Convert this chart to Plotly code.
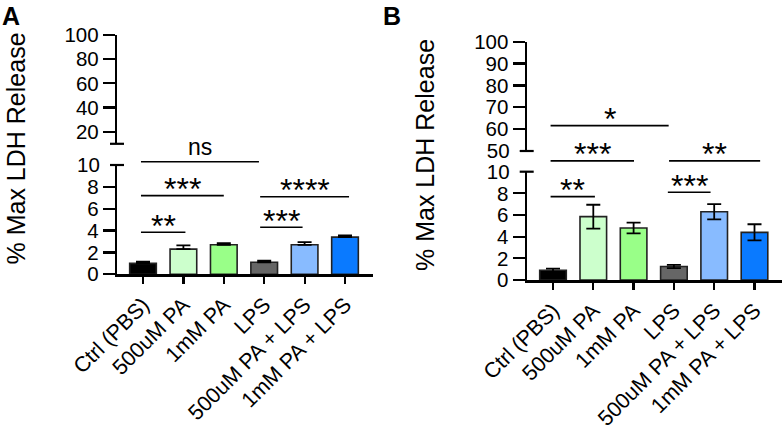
import plotly.graph_objects as go

# ---------------- data ----------------
categories = ["Ctrl (PBS)", "500uM PA", "1mM PA", "LPS", "500uM PA + LPS", "1mM PA + LPS"]
bar_colors = ["#000000", "#ccffcc", "#99ff88", "#666666", "#88bbff", "#0a7aff"]

a_mean = [1.0, 2.3, 2.7, 1.1, 2.7, 3.4]
a_sem = [0.15, 0.35, 0.15, 0.15, 0.25, 0.15]

b_mean = [0.9, 5.85, 4.8, 1.25, 6.3, 4.4]
b_sem = [0.15, 1.1, 0.5, 0.15, 0.7, 0.75]

# significance brackets (category span, height in lower-axis units, label)
a_sig_labels = ["**", "***", "ns", "***", "****"]
a_sig_start = [-0.05, -0.05, -0.05, 2.9, 2.9]
a_sig_end = [1.05, 2.0, 2.87, 3.95, 5.1]
a_sig_height = [3.85, 7.2, 10.3, 4.3, 7.1]

b_sig_labels = ["**", "***", "***", "**", "*"]
b_sig_start = [-0.06, 2.85, -0.06, 2.88, -0.06]
b_sig_end = [1.04, 3.91, 2.01, 5.14, 2.87]
b_sig_height = [7.7, 8.1, 11.0, 11.0, 14.25]

a_lower_ticks = [0, 2, 4, 6, 8]
a_upper_ticks = [20, 40, 60, 80, 100]
b_lower_ticks = [0, 2, 4, 6, 8]
b_upper_ticks = [60, 70, 80, 90, 100]

y_title = "% Max LDH Release"

# ---------------- layout geometry (pixels) ----------------
W, H = 782, 430
FONT = "Arial, Liberation Sans, sans-serif"


def px(x):
    return x / W


def py(y):
    return 1 - y / H


panels = {
    "A": dict(axis_x=117, cat0=143, pitch=40.4, right=373,
              low0=274.3, low10=165, up_bot=143.8, up_top=35,
              up_range=[10, 100], up_ticks=a_upper_ticks, low_ticks=a_lower_ticks,
              up_extra=None, mean=a_mean, sem=a_sem, sym=False,
              sig=(a_sig_labels, a_sig_start, a_sig_end, a_sig_height),
              title_x=15, title_y=148.5, letter_x=0),
    "B": dict(axis_x=526.7, cat0=553, pitch=40.3, right=782,
              low0=280, low10=171.7, up_bot=151, up_top=41.7,
              up_range=[50, 100], up_ticks=b_upper_ticks, low_ticks=b_lower_ticks,
              up_extra=50, mean=b_mean, sem=b_sem, sym=True,
              sig=(b_sig_labels, b_sig_start, b_sig_end, b_sig_height),
              title_x=425, title_y=155, letter_x=381),
}

fig = go.Figure()
layout = dict(width=W, height=H, margin=dict(l=0, r=0, t=0, b=0, autoexpand=False),
              paper_bgcolor="white", plot_bgcolor="rgba(0,0,0,0)",
              showlegend=False, font=dict(family=FONT, color="black"))
shapes = []
annotations = []

ytickfont = dict(family=FONT, size=20.5, color="black")
xtickfont = dict(family=FONT, size=21.5, color="black")
xcat = list(range(len(categories)))

for pi, (name, p) in enumerate(panels.items()):
    base = pi * 5
    xi = base + 1
    yl = base + 1
    yu = base + 2
    xb = base + 3
    yb = base + 3
    yo = base + 4
    yo2 = base + 5

    def aid(letter, n):
        return letter if n == 1 else f"{letter}{n}"

    def lk(letter, n):
        return f"{letter}axis" if n == 1 else f"{letter}axis{n}"

    xrng = [(p["axis_x"] - p["cat0"]) / p["pitch"], (p["right"] - p["cat0"]) / p["pitch"]]
    xdom = [px(p["axis_x"]), min(1.0, px(p["right"]))]
    low_dom = [py(p["low0"]), py(p["low10"])]
    up_dom = [py(p["up_bot"]), py(p["up_top"])]
    scale = (p["low0"] - p["low10"]) / 10.0
    br_top = p["low0"] / scale

    common_y = dict(showline=True, linewidth=2.2, linecolor="black", ticks="outside",
                    ticklen=12, tickwidth=2.2, tickcolor="black", showgrid=False,
                    zeroline=False, tickfont=ytickfont, automargin=False)

    layout[lk("x", xi)] = dict(domain=xdom, range=xrng, anchor=aid("y", yl),
                              tickvals=xcat, ticktext=categories, tickangle=-45,
                              showline=True, linewidth=2.5, linecolor="black",
                              ticks="outside", ticklen=7, tickwidth=2.2, tickcolor="black",
                              showgrid=False, zeroline=False, tickfont=xtickfont,
                              automargin=False)
    layout[lk("y", yl)] = dict(domain=low_dom, range=[0, 10], anchor=aid("x", xi),
                              tickvals=p["low_ticks"], **common_y)
    layout[lk("y", yu)] = dict(domain=up_dom, range=p["up_range"], anchor=aid("x", xi),
                              tickvals=p["up_ticks"], **common_y)
    layout[lk("y", yo)] = dict(overlaying=aid("y", yl), range=[0, 10], anchor=aid("x", xi),
                              side="left", tickvals=[10], showline=False, ticks="outside",
                              ticklen=12, tickcolor="rgba(0,0,0,0)", showgrid=False,
                              zeroline=False, tickfont=ytickfont, automargin=False)
    if p["up_extra"] is not None:
        layout[lk("y", yo2)] = dict(overlaying=aid("y", yu), range=p["up_range"],
                                   anchor=aid("x", xi), side="left",
                                   tickvals=[p["up_extra"]], showline=False,
                                   ticks="outside", ticklen=12,
                                   tickcolor="rgba(0,0,0,0)", showgrid=False,
                                   zeroline=False, tickfont=ytickfont, automargin=False)
        fig.add_trace(go.Scatter(x=[None], y=[None], xaxis=aid("x", xi),
                                 yaxis=aid("y", yo2), hoverinfo="skip"))
    layout[lk("x", xb)] = dict(domain=xdom, range=xrng, visible=False, anchor=aid("y", yb),
                              automargin=False)
    layout[lk("y", yb)] = dict(domain=[low_dom[0], 1.0], range=[0, br_top], visible=False,
                              anchor=aid("x", xb), automargin=False)

    # bars
    fig.add_trace(go.Bar(
        x=xcat, y=p["mean"], width=0.66,
        marker=dict(color=bar_colors, line=dict(color="#222222", width=1.6)),
        error_y=dict(type="data", array=p["sem"],
                     arrayminus=(p["sem"] if p["sym"] else [0] * len(p["sem"])),
                     symmetric=False, color="black", thickness=1.8, width=7),
        xaxis=aid("x", xi), yaxis=aid("y", yl), hoverinfo="skip"))
    fig.add_trace(go.Scatter(x=[None], y=[None], xaxis=aid("x", xi), yaxis=aid("y", yu),
                             hoverinfo="skip"))
    fig.add_trace(go.Scatter(x=[None], y=[None], xaxis=aid("x", xi), yaxis=aid("y", yo),
                             hoverinfo="skip"))

    # significance brackets
    labels, starts, ends, heights = p["sig"]
    for lab, s, e, h in zip(labels, starts, ends, heights):
        fig.add_trace(go.Scatter(x=[s, e], y=[h, h], mode="lines",
                                 line=dict(color="black", width=1.6),
                                 xaxis=aid("x", xb), yaxis=aid("y", yb), hoverinfo="skip"))
        is_star = "*" in lab
        annotations.append(dict(
            x=(s + e) / 2, y=h, xref=aid("x", xb), yref=aid("y", yb),
            text=lab, showarrow=False, yanchor="middle",
            yshift=(6.5 if is_star else 14.5),
            font=dict(family=FONT, size=(32 if is_star else 23), color="black")))

    # axis break caps
    for cap in (p["up_bot"], p["low10"]):
        shapes.append(dict(type="line", xref="paper", yref="paper",
                           x0=px(p["axis_x"] - 7), x1=px(p["axis_x"] + 7),
                           y0=py(cap), y1=py(cap),
                           line=dict(color="black", width=2.2)))

    annotations.append(dict(x=px(p["title_x"]), y=py(p["title_y"]), xref="paper",
                            yref="paper", text=y_title, textangle=-90, showarrow=False,
                            xanchor="center", yanchor="middle",
                            font=dict(family=FONT, size=25, color="black")))
    annotations.append(dict(x=px(p["letter_x"]), y=1.0, xref="paper", yref="paper",
                            text=f"<b>{name}</b>", showarrow=False, xanchor="left",
                            yanchor="top",
                            font=dict(family=FONT, size=25, color="black")))

layout["shapes"] = shapes
layout["annotations"] = annotations
fig.update_layout(**layout)
for tr in fig.data:
    tr.showlegend = False

fig.write_html("out.html", config={"displayModeBar": False, "staticPlot": True},
               post_script="document.body.style.margin='0px';"
                           "document.body.style.overflow='hidden';")
